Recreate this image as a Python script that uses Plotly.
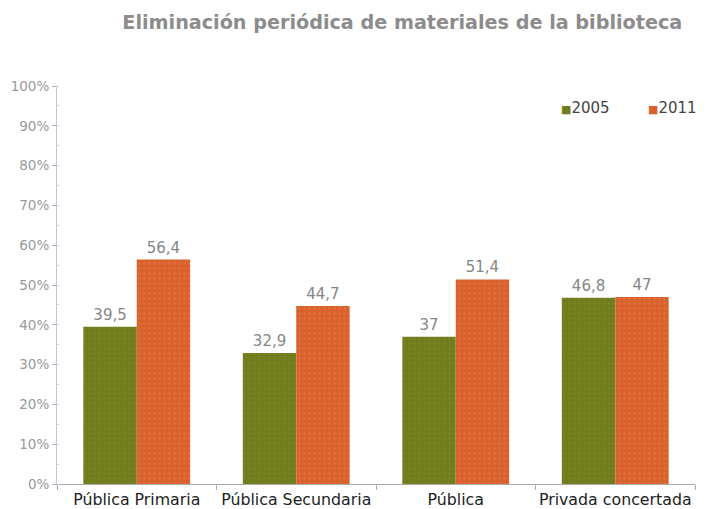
import plotly.graph_objects as go

categories = ["Pública Primaria", "Pública Secundaria", "Pública", "Privada concertada"]
series_names = ["2005", "2011"]
values_2005 = [39.5, 32.9, 37, 46.8]
values_2011 = [56.4, 44.7, 51.4, 47]
y_ticks = [0, 10, 20, 30, 40, 50, 60, 70, 80, 90, 100]
title_text = "Eliminación periódica de materiales de la biblioteca"

def fmt(v):
    return ("%g" % v).replace(".", ",")

colors = ["#717c1c", "#d9622c"]
dot_colors = ["#7f8a2a", "#e47a48"]
font = "DejaVu Sans, Verdana, sans-serif"

fig = go.Figure()
for name, vals, col, dcol in zip(series_names, [values_2005, values_2011], colors, dot_colors):
    fig.add_trace(go.Bar(
        x=categories, y=vals, name=name,
        marker=dict(color=col, line=dict(width=0),
                    pattern=dict(shape=".", fgcolor=dcol, bgcolor=col,
                                 size=5, solidity=0.25, fillmode="overlay")),
        text=[fmt(v) for v in vals], textposition="outside",
        textfont=dict(color="#858585", size=15, family=font),
        cliponaxis=False, showlegend=False,
    ))

# legend drawn as text items (square glyph + year)
legend_x = [0.870, 1.007]
for name, col, lx in zip(series_names, colors, legend_x):
    fig.add_annotation(
        xref="paper", yref="paper", x=lx, y=0.945, xanchor="right", yanchor="middle",
        text="<span style='color:%s;font-size:11px'>■</span>%s" % (col, name),
        showarrow=False, font=dict(size=15, color="#444444", family=font),
    )

fig.update_layout(
    width=707, height=509,
    margin=dict(l=57, r=12, t=86, b=25),
    paper_bgcolor="white", plot_bgcolor="white",
    barmode="group", bargap=0.33, bargroupgap=0,
    font=dict(family=font),
    title=dict(text="<b>" + title_text + "</b>", x=0.569, xanchor="center",
               y=0.956, yanchor="middle",
               font=dict(size=19.2, color="#8c8c8c", family=font)),
    showlegend=False,
)
fig.update_xaxes(
    automargin=False,
    showline=True, linecolor="#aaaaaa", linewidth=1,
    ticks="outside", tickson="boundaries", ticklen=5, tickcolor="#aaaaaa",
    tickfont=dict(size=15.8, color="#222", family=font),
    tickangle=0, ticklabelstandoff=1,
    showgrid=False,
)
fig.update_yaxes(
    automargin=False,
    range=[0, 100], tickvals=y_ticks, ticktext=["%d%%" % t for t in y_ticks],
    showline=True, linecolor="#c8c8d4", linewidth=1,
    ticks="outside", ticklen=4, tickcolor="#b0b0c0",
    tickfont=dict(size=13.5, color="#999999", family=font),
    showgrid=False, zeroline=False,
    minor=dict(ticks="inside", ticklen=2, tickcolor="#d0d0e0", dtick=5, showgrid=False),
)

fig.write_html("out.html", config={"displayModeBar": False},
               post_script="document.body.style.margin='0';document.body.style.overflow='hidden';")
